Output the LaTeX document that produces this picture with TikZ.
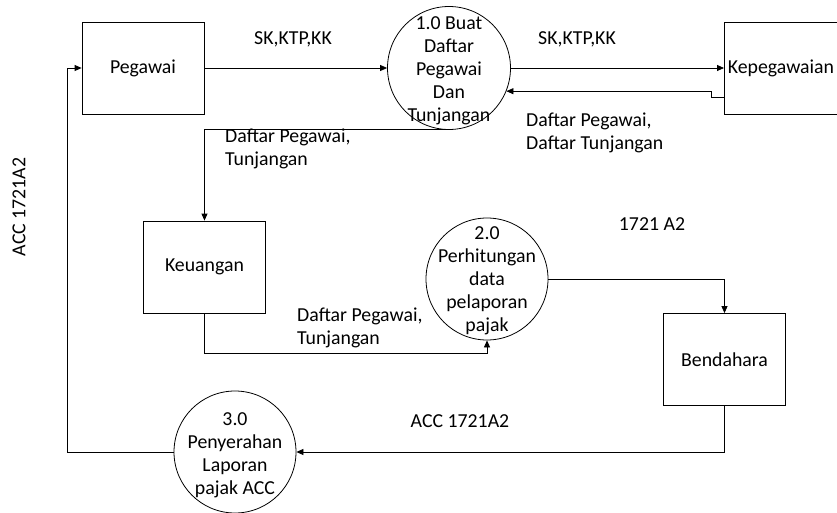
\documentclass[tikz,border=0pt]{standalone}
\usepackage{fontspec}
\setmainfont{Carlito}
\usetikzlibrary{arrows.meta}
\begin{document}
\begin{tikzpicture}[x=1pt,y=-1pt,
  every node/.style={font=\fontsize{19.8}{23}\selectfont},
  ent/.style={draw, line width=0.8pt, minimum width=122pt, minimum height=92pt, inner sep=0pt},
  proc/.style={draw, circle, line width=0.8pt, minimum size=123pt, inner sep=0pt},
  ptext/.style={align=center, inner sep=0pt},
  lbl/.style={align=left, anchor=west, inner sep=0pt},
  clbl/.style={inner sep=0pt},
  flow/.style={line width=0.8pt, -{Triangle[length=7pt,width=6pt]}}]
\useasboundingbox (0,0) rectangle (837,513);
\clip (0,0) rectangle (837,513);
% entities
\node[ent] (peg) at (143,68) {Pegawai};
\node[ent, minimum width=130pt, anchor=west] (kep) at (724,68) {};
\node[clbl] (kept) at (781,68) {Kepegawaian};
\node[ent] (keu) at (204.5,267) {Keuangan};
\node[ent] (ben) at (724.5,359.5) {Bendahara};
% processes
\node[proc] (p1) at (449,68) {};
\node[ptext] (p1t) at (449,71) {1.0 Buat\\Daftar\\Pegawai\\Dan\\Tunjangan};
\node[proc, minimum size=122pt] (p2) at (487,279) {};
\node[ptext] (p2t) at (487,281) {2.0\\Perhitungan\\data\\pelaporan\\pajak};
\node[proc, minimum size=122pt] (p3) at (235,452) {};
\node[ptext] (p3t) at (235,455) {3.0\\Penyerahan\\Laporan\\pajak ACC};
% flows
\draw[flow] (peg.east) -- (p1.west);
\draw[flow] (p1.east) -- (kep.west);
\draw[flow] ([yshift=-29pt]kep.west) -- ++(-13,0) |- (p1.-22);
\draw[flow] (p1.south) -| (keu.north);
\draw[flow] (keu.south) -- ++(0,40) -| (p2.south);
\draw[flow] (p2.east) -| (ben.north);
\draw[flow] (ben.south) |- (p3.east);
\draw[flow] (p3.west) -| ([xshift=-14pt]peg.west) -- (peg.west);
% labels
\node[clbl] (l1) at (293,39) {SK,KTP,KK};
\node[clbl] (l2) at (577,39) {SK,KTP,KK};
\node[lbl] (l3) at (526,133) {Daftar Pegawai,\\Daftar Tunjangan};
\node[lbl] (l4) at (225,149) {Daftar Pegawai,\\Tunjangan};
\node[lbl] (l5) at (297,328) {Daftar Pegawai,\\Tunjangan};
\node[clbl] (l6) at (652,224) {1721 A2};
\node[clbl] (l7) at (460,421) {ACC 1721A2};
\node[clbl, rotate=90] (l8) at (19,207) {ACC 1721A2};
\end{tikzpicture}
\end{document}
